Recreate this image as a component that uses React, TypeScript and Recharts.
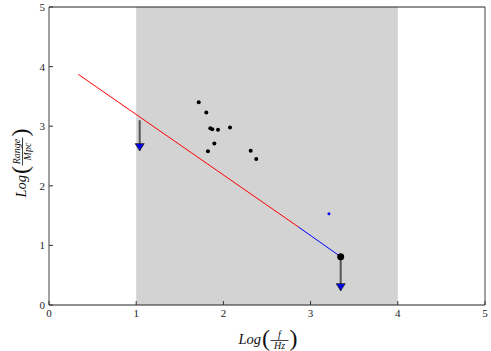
import React from "react";
import {
    ComposedChart,
    XAxis,
    YAxis,
    Line,
    Scatter,
    ReferenceArea,
} from "recharts";

// log f / Hz on x, log range / Mpc on y
const axisTicks = [0, 1, 2, 3, 4, 5];
const bandFrom = 1;
const bandTo = 4;

const redLine = [
    { x: 0.336, y: 3.87 },
    { x: 2.86, y: 1.31 },
];
const blueLine = [
    { x: 2.86, y: 1.31 },
    { x: 3.345, y: 0.81 },
];

const detections = [
    { x: 1.717, y: 3.4 },
    { x: 1.804, y: 3.23 },
    { x: 1.85, y: 2.965 },
    { x: 1.873, y: 2.95 },
    { x: 1.938, y: 2.94 },
    { x: 2.076, y: 2.98 },
    { x: 1.896, y: 2.71 },
    { x: 1.823, y: 2.58 },
    { x: 2.313, y: 2.59 },
    { x: 2.377, y: 2.45 },
];
const bluePoint = [{ x: 3.21, y: 1.53 }];
const endPoint = [{ x: 3.345, y: 0.81 }];

// upper limits: arrow from "from" down to "to"
const limitX = [1.04, 3.345];
const limitFrom = [3.1, 0.81];
const limitTo = [2.59, 0.24];

const arrows = limitX.map((x, i) => [
    { x, y: limitFrom[i] },
    { x, y: limitTo[i] },
]);
const arrowHeads = limitX.map((x, i) => ({ x, y: limitTo[i] }));

const SERIF = "'Liberation Serif', 'DejaVu Serif', serif";

function Dot(r: number, fill: string) {
    return (props: any) => <circle cx={props.cx} cy={props.cy} r={r} fill={fill} />;
}

function ArrowHead(props: any) {
    const { cx, cy } = props;
    return (
        <path
            d={`M${cx - 4.5},${cy - 7} L${cx + 4.5},${cy - 7} L${cx},${cy} Z`}
            fill="#0000ee"
            stroke="#222"
            strokeWidth={0.8}
        />
    );
}

function MathLabel({ cx, cy, rotate, num, den, fracW }: any) {
    const logW = 23;
    const total = logW + 9 + fracW + 9;
    const x0 = -total / 2;
    const fx = x0 + logW + 9;
    return (
        <g transform={`translate(${cx},${cy}) rotate(${rotate})`} fontFamily={SERIF} fill="#111">
            <text x={x0} y={0} fontSize={14.5} fontStyle="italic">Log</text>
            <text x={x0 + logW + 0.5} y={1.5} fontSize={24}>(</text>
            <text x={fx + fracW / 2} y={-6} fontSize={10} fontStyle="italic" textAnchor="middle">{num}</text>
            <line x1={fx} x2={fx + fracW} y1={-3.5} y2={-3.5} stroke="#111" strokeWidth={0.8} />
            <text x={fx + fracW / 2} y={4.5} fontSize={10} fontStyle="italic" textAnchor="middle">{den}</text>
            <text x={fx + fracW + 1} y={1.5} fontSize={24}>)</text>
        </g>
    );
}

function BottomTick(props: any) {
    const { x, y, payload } = props;
    return (
        <g>
            <line x1={x} x2={x} y1={y} y2={y - 4} stroke="#333" />
            <text x={x} y={y + 12} textAnchor="middle" fontSize={11} fontFamily={SERIF} fill="#222">
                {payload.value}
            </text>
        </g>
    );
}

function LeftTick(props: any) {
    const { x, y, payload } = props;
    return (
        <g>
            <line x1={x} x2={x + 4} y1={y} y2={y} stroke="#333" />
            <text x={x - 4} y={y + 4} textAnchor="end" fontSize={11} fontFamily={SERIF} fill="#222">
                {payload.value}
            </text>
        </g>
    );
}

function TopTick(props: any) {
    const { x, y } = props;
    return <line x1={x} x2={x} y1={y} y2={y + 4} stroke="#333" />;
}

function RightTick(props: any) {
    const { x, y } = props;
    return <line x1={x} x2={x - 4} y1={y} y2={y} stroke="#333" />;
}

export default function App() {
    return (
        <div style={{ position: "absolute", left: 0, top: 0, background: "#fff" }}>
            <ComposedChart width={491} height={351} margin={{ top: 6, right: 5, bottom: 0, left: 0 }}>
                <XAxis
                    dataKey="x"
                    type="number"
                    domain={[0, 5]}
                    ticks={axisTicks}
                    interval={0}
                    height={46}
                    tickSize={0}
                    tickMargin={0}
                    tick={BottomTick}
                    axisLine={{ stroke: "#222" }}
                    label={{
                        content: (p: any) => (
                            <MathLabel
                                cx={p.viewBox.x + p.viewBox.width / 2 + 1}
                                cy={p.viewBox.y + 39}
                                rotate={0}
                                num="f"
                                den="Hz"
                                fracW={18}
                            />
                        ),
                    }}
                />
                <XAxis
                    xAxisId="top"
                    orientation="top"
                    type="number"
                    domain={[0, 5]}
                    ticks={axisTicks}
                    interval={0}
                    height={1}
                    tickSize={0}
                    tickMargin={0}
                    tick={TopTick}
                    axisLine={{ stroke: "#222" }}
                />
                <YAxis
                    dataKey="y"
                    type="number"
                    domain={[0, 5]}
                    ticks={axisTicks}
                    interval={0}
                    width={49}
                    tickSize={0}
                    tickMargin={0}
                    tick={LeftTick}
                    axisLine={{ stroke: "#444" }}
                    label={{
                        content: (p: any) => (
                            <MathLabel
                                cx={26}
                                cy={p.viewBox.y + p.viewBox.height / 2 + 7}
                                rotate={-90}
                                num="Range"
                                den="Mpc"
                                fracW={28}
                            />
                        ),
                    }}
                />
                <YAxis
                    yAxisId="right"
                    orientation="right"
                    type="number"
                    domain={[0, 5]}
                    ticks={axisTicks}
                    interval={0}
                    width={1}
                    tickSize={0}
                    tickMargin={0}
                    tick={RightTick}
                    axisLine={{ stroke: "#444" }}
                />
                <ReferenceArea
                    x1={bandFrom}
                    x2={bandTo}
                    y1={0}
                    y2={5}
                    fill="#d3d3d3"
                    fillOpacity={1}
                    stroke="none"
                />
                <Line data={redLine} dataKey="y" stroke="#ff0000" strokeWidth={1} dot={false} isAnimationActive={false} />
                <Line data={blueLine} dataKey="y" stroke="#0000ff" strokeWidth={1} dot={false} isAnimationActive={false} />
                {arrows.map((a, i) => (
                    <Line
                        key={i}
                        data={a}
                        dataKey="y"
                        stroke="#555"
                        strokeWidth={2}
                        dot={false}
                        isAnimationActive={false}
                    />
                ))}
                <Scatter data={arrowHeads} shape={ArrowHead} isAnimationActive={false} />
                <Scatter data={detections} shape={Dot(2, "#000")} isAnimationActive={false} />
                <Scatter data={bluePoint} shape={Dot(1.5, "#0000ff")} isAnimationActive={false} />
                <Scatter data={endPoint} shape={Dot(3.5, "#000")} isAnimationActive={false} />
            </ComposedChart>
        </div>
    );
}
